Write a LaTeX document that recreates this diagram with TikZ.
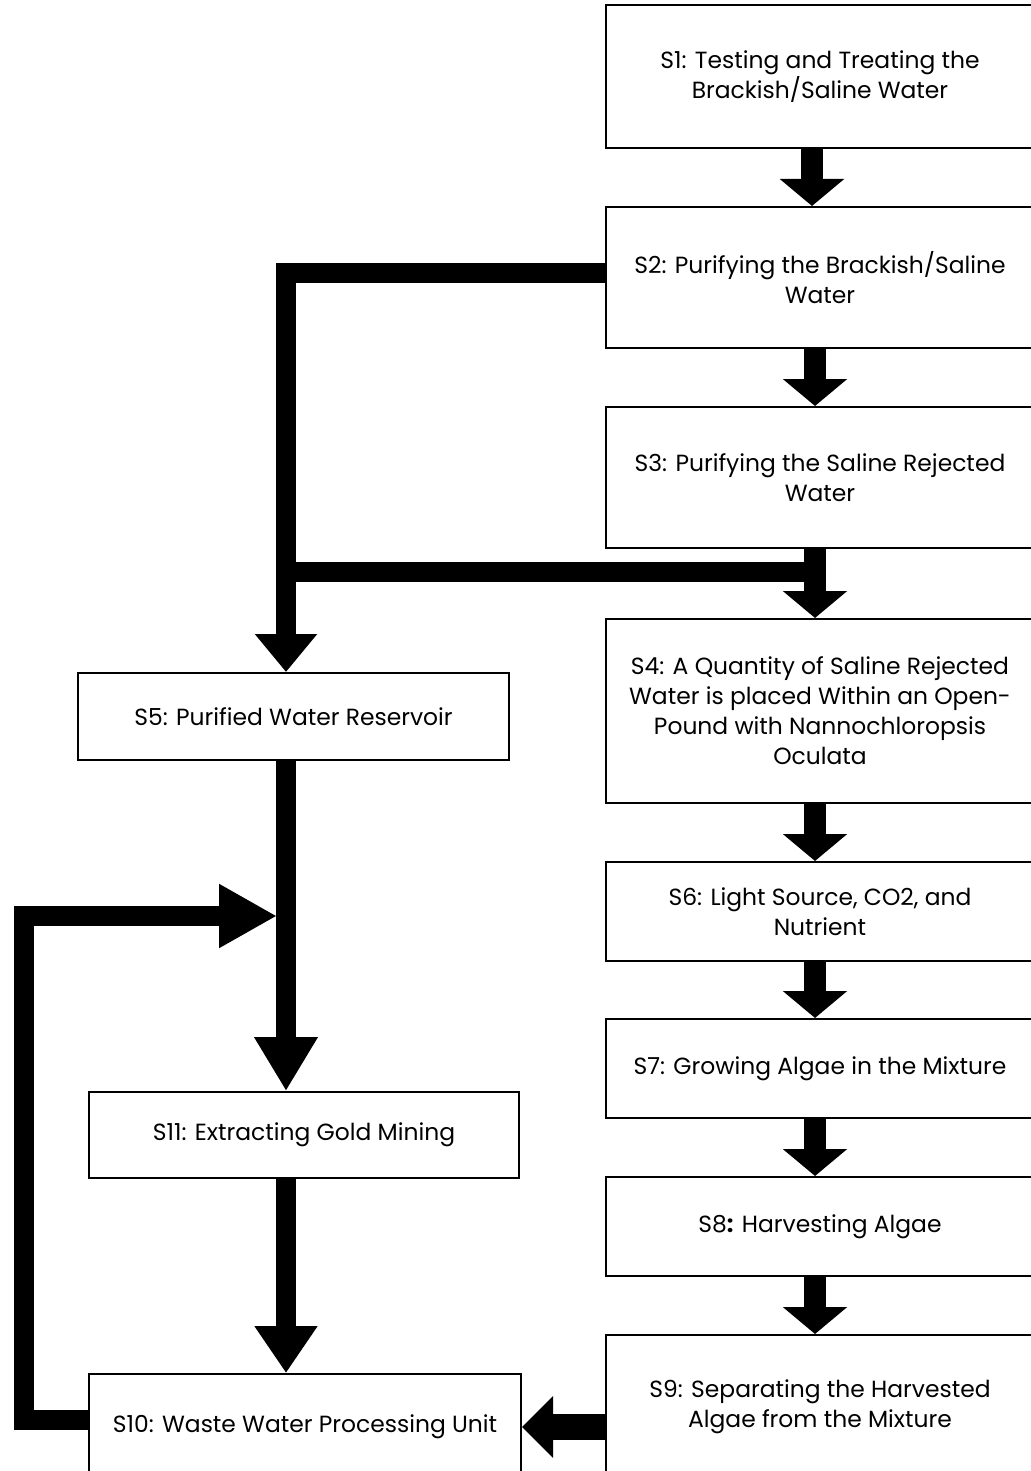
\documentclass[tikz,border=0pt]{standalone}
\usepackage{fontspec}
\setmainfont{Poppins}
\usetikzlibrary{arrows.meta}

\tikzset{
    feed/.style={
        line width=10pt,
        -{Triangle[width=30pt,length=#1]}
    },
    feed/.default=27pt
}

\begin{document}
\begin{tikzpicture}[
    x=0.5pt,
    y=-0.5pt,
    stage/.style={
        draw,
        line width=1pt,
        align=center,
        inner sep=0pt,
        font=\fontsize{11.7}{15}\selectfont
    },
    wide/.style={
        stage,
        minimum width=214pt
    },
    flow/.style={
        line width=11pt,
        -{Triangle[width=31.5pt,length=13.5pt]}
    },
    bar/.style={
        line width=10pt
    }
]
\useasboundingbox (0,0) rectangle (1031,1471);

% =====================
% Columna derecha
% =====================
\node[wide, minimum height=71.5pt] (s1) at (820,76.5)
    {S1: Testing and Treating the\\Brackish/Saline Water};
\node[wide, minimum height=70.5pt] (s2) at (820,277.5)
    {S2: Purifying the Brackish/Saline\\Water};
\node[wide, minimum height=70.5pt] (s3) at (820,477.5)
    {S3: Purifying the Saline Rejected\\Water};
\node[wide, minimum height=92pt] (s4) at (820,711)
    {S4: A Quantity of Saline Rejected\\Water is placed Within an Open-\\Pound with Nannochloropsis\\Oculata};
\node[wide, minimum height=49.5pt] (s6) at (820,911.5)
    {S6: Light Source, CO2, and\\Nutrient};
\node[wide, minimum height=49.5pt] (s7) at (820,1068.5)
    {S7: Growing Algae in the Mixture};
\node[wide, minimum height=49.5pt] (s8) at (820,1226.5)
    {S8{\bfseries:} Harvesting Algae};
\node[wide, minimum height=72pt] (s9) at (820,1407)
    {S9: Separating the Harvested\\Algae from the Mixture};

% =====================
% Columna izquierda
% =====================
\node[stage, minimum width=215.5pt, minimum height=43.5pt] (s5) at (293.5,716.5)
    {S5: Purified Water Reservoir};
\node[stage, minimum width=215pt, minimum height=43pt] (s11) at (304,1135)
    {S11: Extracting Gold Mining};
\node[stage, minimum width=216pt, minimum height=53pt] (s10) at (305,1427)
    {S10: Waste Water Processing Unit};

\coordinate (bend) at (286,273);
\coordinate (tee)  at (286,572);
\coordinate (loop) at (24,916);
\coordinate (join) at (277,916);

% =====================
% Flechas
% =====================
\draw[flow] ([xshift=-4pt]s1.south) -- ([xshift=-4pt]s2.north);
\draw[flow] ([xshift=-2.5pt]s2.south) -- ([xshift=-2.5pt]s3.north);
\draw[flow] ([xshift=-2.5pt]s3.south) -- ([xshift=-2.5pt]s4.north);
\draw[flow] ([xshift=-2.5pt]s4.south) -- ([xshift=-2.5pt]s6.north);
\draw[flow] ([xshift=-2.5pt]s6.south) -- ([xshift=-2.5pt]s7.north);
\draw[flow] ([xshift=-2.5pt]s7.south) -- ([xshift=-2.5pt]s8.north);
\draw[flow] ([xshift=-2.5pt]s8.south) -- ([xshift=-2.5pt]s9.north);

\draw[feed=19pt] (s2.west |- bend) -- (bend) -- (bend |- s5.north);
\draw[bar] (tee) -- (tee -| s4.north);
\draw[feed] (s5.south -| bend) -- (s11.north -| bend);
\draw[feed=23.5pt] (s11.south -| bend) -- (s10.north -| bend);
\draw[feed=29pt] ([yshift=3.5pt]s10.west) -| (loop) -- (join);
\draw[feed=15.5pt, line width=13pt] (s9.west |- s10.east) -- (s10.east);

\end{tikzpicture}
\end{document}
